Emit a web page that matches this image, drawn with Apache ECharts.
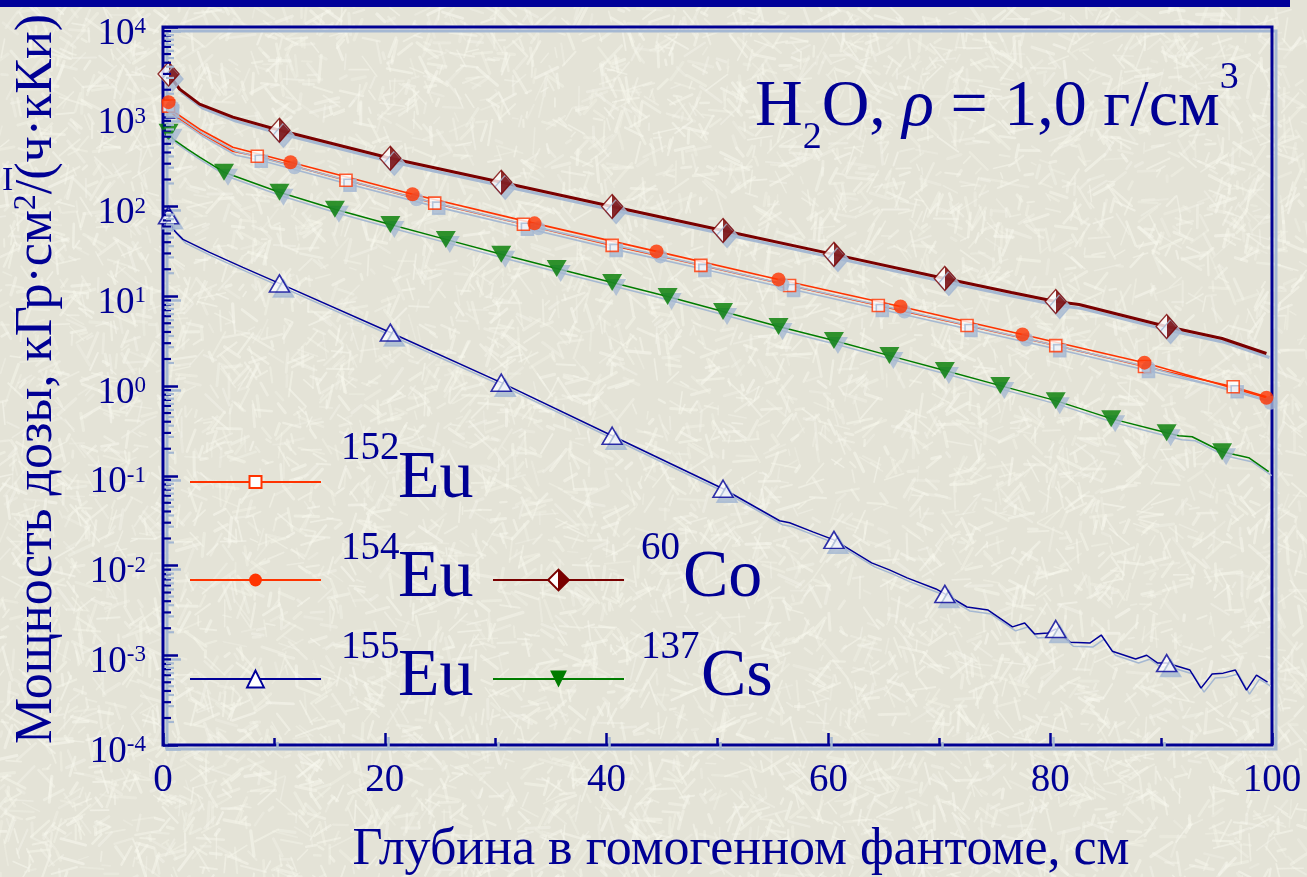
<!DOCTYPE html>
<html>
<head>
<meta charset="utf-8">
<script src="https://cdn.jsdelivr.net/npm/echarts@6/dist/echarts.min.js"></script>
<style>
  html, body { margin: 0; padding: 0; width: 1307px; height: 877px; overflow: hidden; background: #e6e5d9; }
  #chart { width: 1307px; height: 877px; }
</style>
</head>
<body>
<div id="chart"></div>
<script>
// Dose rate in a homogeneous water phantom vs depth, for five gamma sources.
// Depths in cm, dose rate in kGy·cm²/(h·kCi).

const eu152Depth = [0.5, 0.9, 3.3, 6.3, 8.5, 16.5, 24.5, 32.5, 40.5, 48.5, 56.5, 64.5, 72.5, 80.5, 88.5, 96.5, 99.5];
const eu152Dose  = [1313, 1069, 673, 413, 363, 196, 109, 63.3, 36.9, 22.1, 13.2, 7.9, 4.72, 2.82, 1.65, 0.98, 0.76];
const eu152Marks = [0.5, 8.5, 16.5, 24.5, 32.5, 40.5, 48.5, 56.5, 64.5, 72.5, 80.5, 88.5, 96.5];

const eu154Depth = [0.5, 0.9, 3.3, 6.3, 11.5, 22.5, 33.5, 44.5, 55.5, 66.5, 77.5, 88.5, 99.5];
const eu154Dose  = [1455, 1155, 727, 458, 311, 137, 64.9, 31.6, 15.4, 7.7, 3.75, 1.82, 0.74];
const eu154Marks = [0.5, 11.5, 22.5, 33.5, 44.5, 55.5, 66.5, 77.5, 88.5, 99.5];

const eu155Depth = [0.5, 0.9, 1.8, 4.2, 7.2, 10.5, 20.5, 30.5, 40.5, 50.5, 55.6, 56.5, 58.6, 60.5, 63.9, 65.5, 67.1, 69.7, 70.5,
                    72.5, 74.4, 76.6, 77.7, 78.6, 79.8, 80.5, 81.8, 83.6, 84.6, 85.6, 87.7, 88.7, 89.7, 90.5,
                    92.6, 93.6, 94.6, 95.6, 96.7, 97.7, 98.6, 99.6];
const eu155Dose  = [79.8, 55.7, 43, 30.8, 21, 13.9, 3.94, 1.09, 0.279, 0.0716, 0.0315, 0.0299, 0.0237, 0.0193, 0.0107, 0.00893, 0.00728, 0.00548, 0.00482,
                    0.00345, 0.00319, 0.00207, 0.00229, 0.00173, 0.00177, 0.00196, 0.0014, 0.00137, 0.00168, 0.00111, 0.000908, 0.001, 0.000818, 0.000818,
                    0.000684, 0.00043, 0.000617, 0.000632, 0.000684, 0.000409, 0.000601, 0.000502];
const eu155Marks = [0.5, 10.5, 20.5, 30.5, 40.5, 50.5, 60.5, 70.5, 80.5, 90.5];

const co60Depth = [0.5, 1.5, 3.3, 6.3, 10.5, 20.5, 30.5, 40.5, 50.5, 60.5, 70.5, 76.5, 80.5, 82.6, 90.5, 95.5, 99.5];
const co60Dose  = [2990, 2030, 1383, 990, 708, 345, 186, 100, 54, 29.3, 15.8, 11.0, 8.75, 8.1, 4.6, 3.38, 2.3];
const co60Marks = [0.5, 10.5, 20.5, 30.5, 40.5, 50.5, 60.5, 70.5, 80.5, 90.5];

const cs137Depth = [0.5, 0.9, 2.2, 3.3, 5.5, 10.5, 15.5, 20.5, 25.5, 30.5, 35.5, 40.5, 45.5, 50.5, 55.5, 60.5, 65.5, 70.5,
                    75.5, 80.5, 85.5, 90.5, 91.6, 92.8, 95.5, 96.7, 97.9, 99.7];
const cs137Dose  = [673, 562, 435, 354, 241, 144, 93, 63, 43, 29.3, 20.4, 14.2, 9.95, 6.77, 4.6, 3.21, 2.18, 1.49,
                    1.01, 0.687, 0.433, 0.302, 0.279, 0.272, 0.185, 0.171, 0.159, 0.111];
const cs137Marks = [0.5, 5.5, 10.5, 15.5, 20.5, 25.5, 30.5, 35.5, 40.5, 45.5, 50.5, 55.5, 60.5, 65.5, 70.5, 75.5, 80.5, 85.5, 90.5, 95.5];

// log-axis decades and the 2..9 subdivisions drawn as short inside ticks
const yDecadeExponents = [-4, -3, -2, -1, 0, 1, 2, 3];
const yMinorMultipliers = [2, 3, 4, 5, 6, 7, 8, 9];

// ---------- page texture: fine pale scratches on a beige ground ----------
(function paperTexture() {
  const c = document.createElement('canvas');
  c.width = 1307; c.height = 877;
  const g = c.getContext('2d');
  g.fillStyle = '#e4e3d7';
  g.fillRect(0, 0, c.width, c.height);
  let s = 20231;
  const rnd = () => (s = (s * 16807) % 2147483647) / 2147483647;
  g.lineCap = 'round';
  for (let i = 0; i < 9000; i++) {
    const x = rnd() * 1307, y = rnd() * 877, a = rnd() * Math.PI, l = 5 + rnd() * 22;
    g.strokeStyle = 'rgba(248,248,238,' + (0.25 + rnd() * 0.3).toFixed(2) + ')';
    g.lineWidth = 1.5 + rnd() * 1.8;
    g.beginPath();
    g.moveTo(x, y);
    g.lineTo(x + Math.cos(a) * l, y + Math.sin(a) * l);
    g.stroke();
  }
  document.body.style.background = 'url(' + c.toDataURL() + ')';
})();

// ---------- chart ----------
const NAVY = '#000094';
const SHADE = '#a5b8d2';
const SERIF = "'Liberation Serif', 'Times New Roman', serif";
const shadow = { shadowColor: SHADE, shadowOffsetX: 3, shadowOffsetY: 4, shadowBlur: 0 };
const textShade = { textShadowColor: SHADE, textShadowOffsetX: 4, textShadowOffsetY: 4, textShadowBlur: 0 };

const pairs = (d, v) => d.map((x, i) => [x, v[i]]);
const marked = (d, v, m) => pairs(d, v).filter(p => m.includes(p[0]));

const DOWN_TRI = 'path://M0,0 L20,0 L10,17 Z';
const coFill = {
  type: 'linear', x: 0, y: 0, x2: 1, y2: 0,
  colorStops: [
    { offset: 0, color: '#ffffff' }, { offset: 0.5, color: '#ffffff' },
    { offset: 0.5, color: '#7a0000' }, { offset: 1, color: '#7a0000' }
  ]
};

const sources = [
  { name: '152Eu', d: eu152Depth, v: eu152Dose, m: eu152Marks, color: '#ff3300', width: 1.6,
    symbol: 'rect', size: 12, item: { color: '#ffffff', borderColor: '#ff3300', borderWidth: 1.6 } },
  { name: '154Eu', d: eu154Depth, v: eu154Dose, m: eu154Marks, color: '#ff3300', width: 1.6,
    symbol: 'circle', size: 14, item: { color: '#ff3300', borderColor: '#ff3300', borderWidth: 0 } },
  { name: '155Eu', d: eu155Depth, v: eu155Dose, m: eu155Marks, color: '#000099', width: 1.5,
    symbol: 'triangle', size: [20, 17], item: { color: '#ffffff', borderColor: '#000099', borderWidth: 1.6 } },
  { name: '60Co', d: co60Depth, v: co60Dose, m: co60Marks, color: '#7a0000', width: 3,
    symbol: 'diamond', size: [21, 24], item: { color: coFill, borderColor: '#7a0000', borderWidth: 1.4 } },
  { name: '137Cs', d: cs137Depth, v: cs137Dose, m: cs137Marks, color: '#007c00', width: 1.5,
    symbol: DOWN_TRI, size: [20, 17], item: { color: '#007c00', borderColor: '#007c00', borderWidth: 0 } }
];

const series = [];
sources.forEach(src => {
  series.push({
    name: src.name, type: 'line', data: pairs(src.d, src.v),
    showSymbol: false, symbol: src.symbol, symbolSize: src.size,
    lineStyle: Object.assign({ color: src.color, width: src.width }, shadow),
    itemStyle: Object.assign({}, src.item, shadow),
    z: 3, silent: true
  });
});
sources.forEach(src => {
  series.push({
    name: src.name + ' marks', type: 'scatter', data: marked(src.d, src.v, src.m),
    symbol: src.symbol, symbolSize: src.size, clip: false,
    itemStyle: Object.assign({}, src.item, { shadowColor: SHADE, shadowOffsetX: 4, shadowOffsetY: 5, shadowBlur: 0 }),
    z: 4, silent: true
  });
});

// minor ticks of the log axis, placed through the axis scale
const minorTickValues = [];
yDecadeExponents.forEach(e => yMinorMultipliers.forEach(k => minorTickValues.push([0, k * Math.pow(10, e)])));
series.push({
  type: 'custom', silent: true, z: 5, clip: false,
  data: minorTickValues,
  renderItem: (params, api) => {
    const p = api.coord([0, api.value(1)]);
    return {
      type: 'line',
      shape: { x1: p[0], y1: p[1], x2: p[0] + 8, y2: p[1] },
      style: Object.assign({ stroke: NAVY, lineWidth: 2.2 }, shadow)
    };
  }
});

const legendSlots = [
  { name: '152Eu', x: 189, y: 482, h: 15 },
  { name: '154Eu', x: 189, y: 580, h: 16 },
  { name: '155Eu', x: 189, y: 679, h: 21 },
  { name: '60Co',  x: 492, y: 580, h: 26 },
  { name: '137Cs', x: 492, y: 679, h: 21 }
];

function label(t, x, y, size, more) {
  more = more || {};
  return {
    type: 'text', x: x, y: y, z: 60, silent: true, rotation: more.rotation || 0,
    style: Object.assign({
      text: t, fill: NAVY,
      font: (more.italic ? 'italic ' : '') + size + 'px ' + SERIF,
      align: more.align || 'left', verticalAlign: 'middle'
    }, textShade, more.style || {})
  };
}

const legendText = [
  ['152', 341, 449, 39], ['Eu', 398, 479, 68],
  ['154', 341, 549, 39], ['Eu', 398, 578, 68],
  ['155', 341, 648, 39], ['Eu', 398, 677, 68],
  ['60', 641, 549, 39],  ['Co', 683, 578, 68],
  ['137', 641, 648, 39], ['Cs', 701, 677, 68]
];

// rich-text pieces of the heading: body text, subscript, italic rho, superscript
const headFont = (size, pad, extra) => Object.assign({
  fontSize: size, fontFamily: SERIF, fill: NAVY, lineHeight: size, verticalAlign: 'top', padding: [pad, 0, 0, 0]
}, textShade, extra || {});

const graphic = [
  { type: 'rect', shape: { x: 0, y: 0, width: 1290, height: 7 }, style: { fill: '#000099' }, z: 70, silent: true },
  {
    type: 'text', x: 755, y: 92, z: 60, silent: true,
    style: {
      text: '{n|H}{sub|2}{n|O, }{i|ρ}{n| = 1,0 г/см}{sup|3}',
      align: 'left', verticalAlign: 'middle',
      rich: {
        n: headFont(66, 16),
        i: headFont(66, 16, { fontStyle: 'italic' }),
        sub: headFont(38, 60),
        sup: headFont(38, 0)
      }
    }
  },
  // axis titles
  label('Глубина в гомогенном фантоме, см', 741, 850, 52, { align: 'center' }),
  {
    type: 'text', x: 37, y: 379, rotation: Math.PI / 2, z: 60, silent: true,
    style: {
      text: '{a|Мощность дозы, кГр·см}{s|2}{a|/(ч·кКи)}',
      align: 'center', verticalAlign: 'middle',
      rich: {
        a: Object.assign({ fontSize: 52, fontFamily: SERIF, fill: NAVY, lineHeight: 52 }, textShade),
        s: Object.assign({ fontSize: 32, fontFamily: SERIF, fill: NAVY, lineHeight: 30, verticalAlign: 'top' }, textShade)
      }
    }
  },
  label('I', 2, 181, 34)
].concat(legendText.map(t => label(t[0], t[1], t[2], t[3])));

const option = {
  animation: false,
  grid: {
    left: 163, right: 35, top: 27, bottom: 132, show: true,
    borderColor: NAVY, borderWidth: 3, backgroundColor: 'transparent',
    shadowColor: SHADE, shadowOffsetX: 4, shadowOffsetY: 4, shadowBlur: 0
  },
  xAxis: {
    type: 'value', min: 0, max: 100, interval: 20,
    axisLine: { show: false }, splitLine: { show: false },
    axisTick: { show: true, inside: true, length: 12, lineStyle: Object.assign({ color: NAVY, width: 2.5 }, shadow) },
    minorTick: { show: true, splitNumber: 2, length: 7, lineStyle: Object.assign({ color: NAVY, width: 2.5 }, shadow) },
    axisLabel: Object.assign({ margin: 16, fontFamily: SERIF, fontSize: 39, color: NAVY }, textShade)
  },
  yAxis: {
    type: 'log', logBase: 10, min: 1e-4, max: 1e4, splitNumber: 8,
    axisLine: { show: false }, splitLine: { show: false },
    axisTick: { show: true, inside: true, length: 15, lineStyle: Object.assign({ color: NAVY, width: 2.5 }, shadow) },
    axisLabel: {
      margin: 17,
      formatter: v => '{b|10}{s|' + Math.round(Math.log10(v)) + '}',
      rich: {
        b: Object.assign({ fontFamily: SERIF, fontSize: 37, color: NAVY, lineHeight: 37, padding: [14, 0, 0, 0] }, textShade),
        s: Object.assign({ fontFamily: SERIF, fontSize: 23, color: NAVY, lineHeight: 23, padding: [7, 0, 0, 0], verticalAlign: 'top' }, textShade)
      }
    }
  },
  legend: legendSlots.map(s => ({
    data: [s.name], left: s.x, top: s.y - s.h / 2, padding: 0,
    itemWidth: 131, itemHeight: s.h, selectedMode: false,
    formatter: () => '', textStyle: { fontSize: 1 }
  })),
  graphic: graphic,
  series: series
};

const chart = echarts.init(document.getElementById('chart'), null, { renderer: 'canvas' });
chart.setOption(option);
</script>
</body>
</html>
